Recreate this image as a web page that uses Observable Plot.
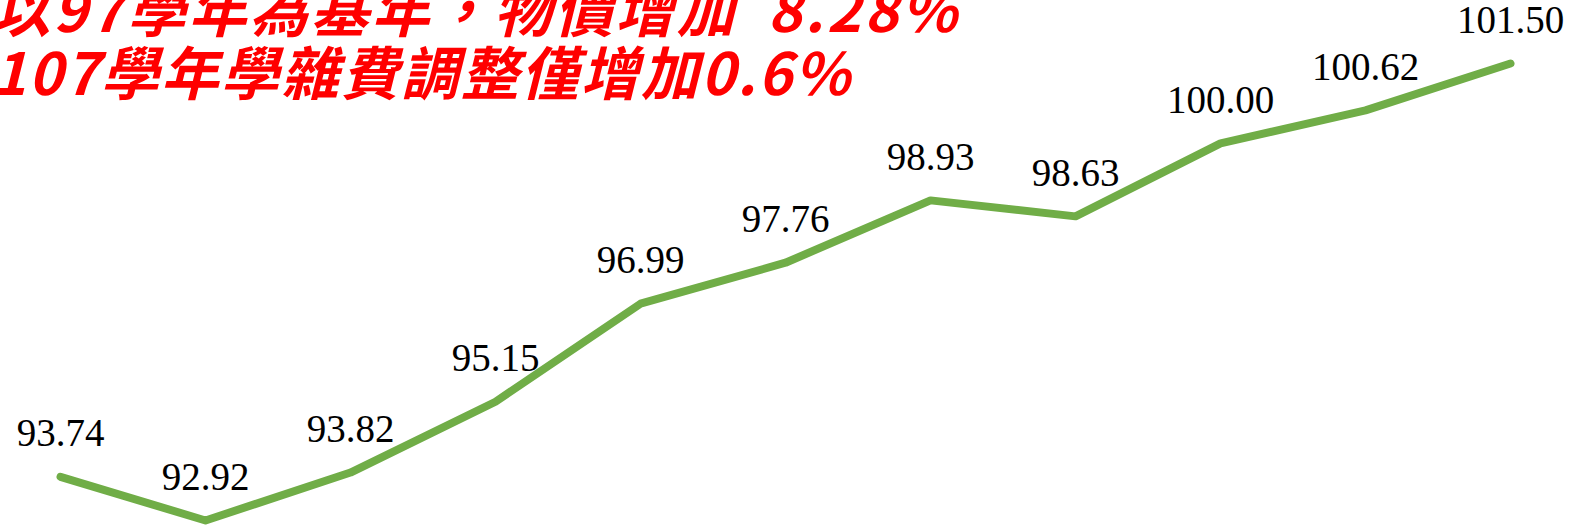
<!DOCTYPE html>
<html>
<head>
<meta charset="utf-8">
<script src="https://cdn.jsdelivr.net/npm/d3@7"></script>
<script src="https://cdn.jsdelivr.net/npm/@observablehq/plot@0.6"></script>
<style>
  html, body { margin: 0; padding: 0; background: #fff; overflow: hidden; }
  #wrap { position: relative; width: 1569px; height: 525px; }
  #title {
    position: absolute; left: -8px; top: -24px;
    font-family: "Noto Sans CJK TC", sans-serif;
    font-weight: 700; font-style: italic;
    font-size: 58px; line-height: 63px;
    letter-spacing: 2px;
    color: #ff0000; white-space: nowrap;
  }
  #title .l1 { letter-spacing: 3px; word-spacing: 14px; }
  svg { position: absolute; left: 0; top: 0; }
</style>
</head>
<body>
<div id="wrap">
  <div id="chart"></div>
  <div id="title"><span class="l1">以97學年為基年，物價增加 8.28%</span><br>107學年學雜費調整僅增加0.6%</div>
</div>
<script>
const years = ["97", "98", "99", "100", "101", "102", "103", "104", "105", "106", "107"];
const priceIndex = [93.74, 92.92, 93.82, 95.15, 96.99, 97.76, 98.93, 98.63, 100.00, 100.62, 101.50];

const data = years.map((y, i) => ({year: y, value: priceIndex[i]}));

const chart = Plot.plot({
  width: 1569,
  height: 525,
  marginLeft: 60,
  marginRight: 59,
  marginTop: 0,
  marginBottom: 0,
  x: {type: "point", domain: years, padding: 0, axis: null},
  y: {domain: [92.92, 101.5], range: [520, 63], axis: null},
  style: {background: "transparent", overflow: "visible"},
  marks: [
    Plot.line(data, {
      x: "year", y: "value",
      stroke: "#70AD47", strokeWidth: 8,
      strokeLinecap: "round", strokeLinejoin: "round"
    }),
    Plot.text(data, {
      x: "year", y: "value",
      text: d => d.value.toFixed(2),
      dy: -43,
      fontSize: 39,
      fontFamily: "Liberation Serif, serif",
      fill: "#000",
      textAnchor: "middle",
      lineAnchor: "middle",
      style: {letterSpacing: "1.5px"}
    })
  ]
});
document.getElementById("chart").appendChild(chart);
</script>
</body>
</html>
